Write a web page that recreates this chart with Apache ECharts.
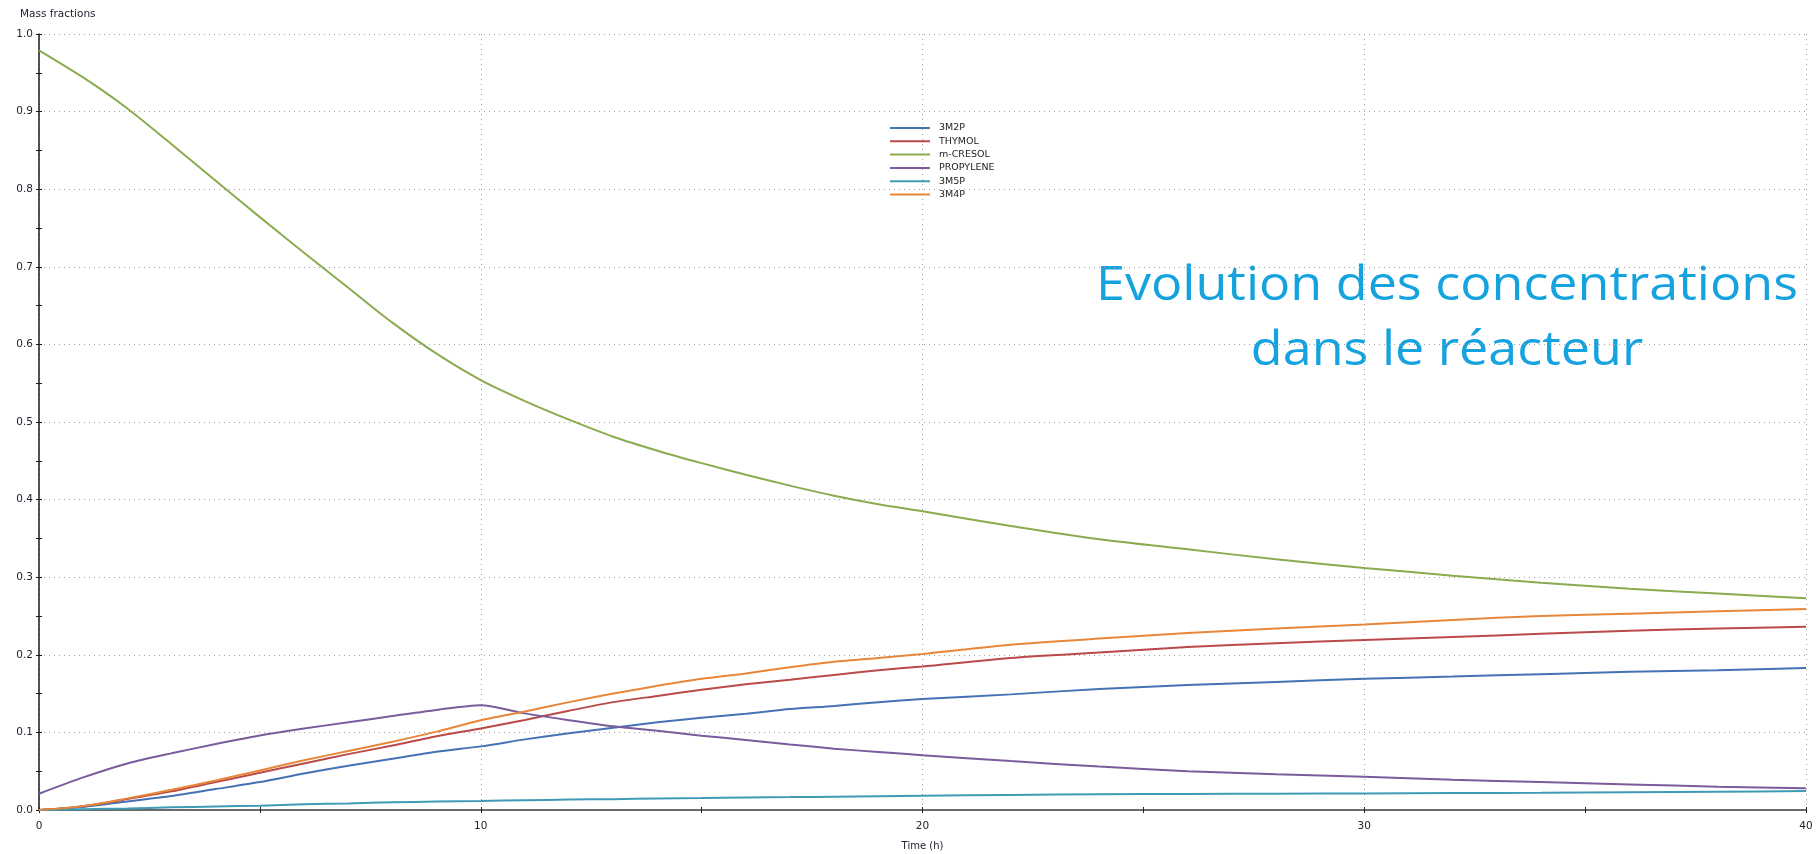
<!DOCTYPE html>
<html>
<head>
<meta charset="utf-8">
<title>Mass fractions</title>
<script src="https://cdn.jsdelivr.net/npm/echarts@6/dist/echarts.min.js"></script>
<style>
  html, body { margin: 0; padding: 0; background: #ffffff; }
  #chart { width: 1816px; height: 854px; }
</style>
</head>
<body>
<div id="chart"></div>
<script>
// Reaction time (h)
const times = [0, 1, 2, 3, 4, 5, 6, 7, 8, 9, 10, 11, 12, 13, 14, 15, 16, 17, 18, 19, 20,
               22, 24, 26, 28, 30, 32, 34, 36, 38, 40];

// Mass fractions of each species
const m3M2P = [0, 0.004, 0.011, 0.018, 0.027, 0.036, 0.047, 0.057, 0.066, 0.075, 0.082,
               0.091, 0.099, 0.106, 0.113, 0.119, 0.124, 0.130, 0.134, 0.139, 0.143,
               0.149, 0.156, 0.161, 0.165, 0.169, 0.172, 0.175, 0.178, 0.180, 0.183];
const thymol = [0, 0.005, 0.014, 0.024, 0.036, 0.048, 0.060, 0.072, 0.083, 0.095, 0.105,
                0.116, 0.128, 0.139, 0.147, 0.155, 0.162, 0.168, 0.174, 0.180, 0.185,
                0.196, 0.203, 0.210, 0.215, 0.219, 0.223, 0.227, 0.231, 0.234, 0.236];
const mCresol = [0.979, 0.944, 0.904, 0.858, 0.811, 0.764, 0.718, 0.673, 0.628, 0.588, 0.554,
                 0.527, 0.503, 0.481, 0.463, 0.447, 0.432, 0.418, 0.405, 0.394, 0.385,
                 0.366, 0.349, 0.336, 0.323, 0.312, 0.302, 0.293, 0.285, 0.279, 0.273];
const propylene = [0.021, 0.042, 0.060, 0.073, 0.085, 0.096, 0.105, 0.113, 0.121, 0.129, 0.135,
                   0.1245, 0.1157, 0.1078, 0.102, 0.0958, 0.0902, 0.0845, 0.079, 0.0748, 0.0706,
                   0.063, 0.056, 0.050, 0.046, 0.0427, 0.039, 0.036, 0.033, 0.030, 0.028];
const m3M5P = [0, 0.001, 0.002, 0.0034, 0.0045, 0.0056, 0.0075, 0.0085, 0.0100, 0.0108, 0.0116,
               0.0126, 0.0134, 0.0140, 0.0148, 0.0154, 0.0161, 0.0166, 0.0172, 0.0178, 0.0184,
               0.0194, 0.0202, 0.0207, 0.0211, 0.0214, 0.0218, 0.0222, 0.0228, 0.0234, 0.0244];
const m3M4P = [0, 0.005, 0.015, 0.026, 0.038, 0.051, 0.064, 0.076, 0.088, 0.101, 0.1156,
               0.127, 0.139, 0.150, 0.160, 0.169, 0.176, 0.184, 0.191, 0.196, 0.201,
               0.213, 0.221, 0.228, 0.234, 0.239, 0.245, 0.250, 0.253, 0.256, 0.259];

const seriesNames = ['3M2P', 'THYMOL', 'm-CRESOL', 'PROPYLENE', '3M5P', '3M4P'];
const seriesValues = [m3M2P, thymol, mCresol, propylene, m3M5P, m3M4P];
const seriesColors = ['#4472b4', '#b94a48', '#8aab4f', '#7a5b9c', '#3f9bb5', '#e8873a'];

const titleLines = ['Evolution des concentrations', 'dans le réacteur'];

const chart = echarts.init(document.getElementById('chart'), null, { renderer: 'canvas' });

const labelFont = 'DejaVu Sans';
const gridLine = { show: true, lineStyle: { color: '#a0a0a0', type: [1, 4], width: 1 } };

// Headline is stretched horizontally to span its column
const titleFont = '400 47px "Open Sans"';
const measureCtx = document.createElement('canvas').getContext('2d');
measureCtx.font = titleFont;
const titleScale = 702 / measureCtx.measureText(titleLines[0]).width;
const titleCenterX = 1447;

const series = seriesNames.map((name, i) => ({
  name: name,
  type: 'line',
  xAxisIndex: 0,
  yAxisIndex: 0,
  data: times.map((t, k) => [t, seriesValues[i][k]]),
  showSymbol: false,
  symbol: 'none',
  smooth: 0.25,
  lineStyle: { width: 2, color: seriesColors[i] },
  itemStyle: { color: seriesColors[i] },
  emphasis: { disabled: true },
  z: 3
}));

const option = {
  animation: false,
  backgroundColor: '#ffffff',
  grid: { left: 39, right: 10, top: 34, bottom: 44, outerBoundsMode: 'none', containLabel: false },
  legend: {
    orient: 'vertical',
    left: 885,
    top: 117,
    icon: 'rect',
    itemWidth: 40,
    itemHeight: 2,
    itemGap: 1.3,
    data: seriesNames,
    textStyle: { fontFamily: labelFont, fontSize: 9.5, color: '#222222', lineHeight: 12, padding: [0, 0, 0, 4] },
    selectedMode: false
  },
  xAxis: [
    {
      type: 'value', min: 0, max: 40, interval: 10,
      name: 'Time (h)', nameLocation: 'middle', nameGap: 31,
      nameTextStyle: { fontFamily: labelFont, fontSize: 10, color: '#222233' },
      axisLine: { show: true, lineStyle: { color: '#6a6a6a', width: 2 } },
      axisTick: { show: true, inside: false, length: 3, lineStyle: { color: '#222222' } },
      minorTick: { show: true, splitNumber: 2, length: 3, lineStyle: { color: '#222222' } },
      axisLabel: { fontFamily: labelFont, fontSize: 10.5, color: '#222233', margin: 11 },
      splitLine: gridLine
    },
    {
      type: 'value', min: 0, max: 40, interval: 10, position: 'bottom',
      axisLine: { show: false },
      axisTick: { show: true, inside: true, length: 3, lineStyle: { color: '#222222' } },
      minorTick: { show: true, splitNumber: 2, length: 3, lineStyle: { color: '#222222' } },
      axisLabel: { show: false },
      splitLine: { show: false }
    }
  ],
  yAxis: [
    {
      type: 'value', min: 0, max: 1, interval: 0.1,
      axisLine: { show: true, lineStyle: { color: '#1a1a1a', width: 1.5 } },
      axisTick: { show: true, inside: false, length: 3, lineStyle: { color: '#1a1a1a' } },
      minorTick: { show: true, splitNumber: 2, length: 3, lineStyle: { color: '#1a1a1a' } },
      axisLabel: {
        fontFamily: labelFont, fontSize: 10.5, color: '#222233', margin: 6,
        formatter: v => v.toFixed(1)
      },
      splitLine: gridLine
    },
    {
      type: 'value', min: 0, max: 1, interval: 0.1, position: 'left',
      axisLine: { show: false },
      axisTick: { show: true, inside: true, length: 3, lineStyle: { color: '#1a1a1a' } },
      minorTick: { show: true, splitNumber: 2, length: 3, lineStyle: { color: '#1a1a1a' } },
      axisLabel: { show: false },
      splitLine: { show: false }
    }
  ],
  graphic: [
    {
      type: 'text', left: 20, top: 9,
      style: { text: 'Mass fractions', font: '10.5px "DejaVu Sans"', fill: '#222233' }
    },
    {
      type: 'text', x: titleCenterX, y: 310, scaleX: titleScale, scaleY: 1,
      style: { text: titleLines[0], font: titleFont, fill: '#15a3e0', align: 'center', verticalAlign: 'bottom' }
    },
    {
      type: 'text', x: titleCenterX, y: 375, scaleX: titleScale, scaleY: 1,
      style: { text: titleLines[1], font: titleFont, fill: '#15a3e0', align: 'center', verticalAlign: 'bottom' }
    }
  ],
  series: series
};

chart.setOption(option);
</script>
</body>
</html>
